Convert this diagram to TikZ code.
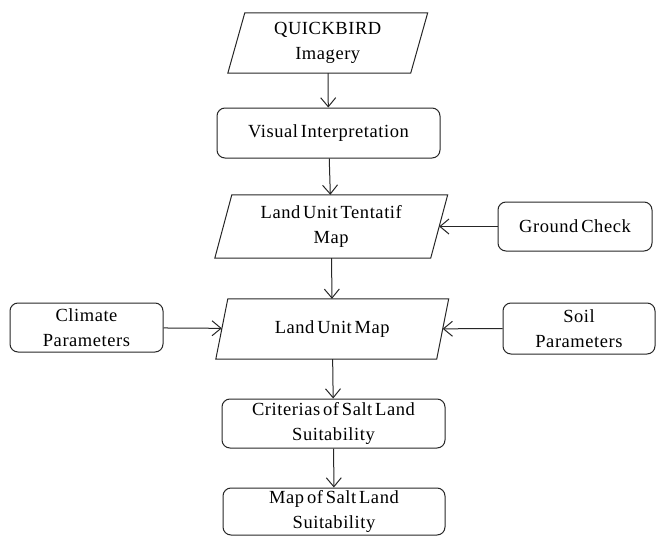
\documentclass[tikz,border=0pt]{standalone}
\usepackage{fontspec}
\setmainfont{Liberation Serif}[WordSpace=0.55,LetterSpace=3]
\usetikzlibrary{arrows.meta}
\newcommand\drawparal[2]{\draw[line width=1pt,draw=black!85] ([xshift=#2]#1.north west) -- ([xshift=#2]#1.north east) -- ([xshift=-#2]#1.south east) -- ([xshift=-#2]#1.south west) -- cycle;}
\begin{document}
\begin{tikzpicture}[x=1pt,y=-1pt,
  txt/.style={font=\fontsize{18.5}{25}\selectfont, align=center, inner sep=0pt, text=black},
  rbox/.style={txt, draw=black!85, line width=1pt, rounded corners=8pt},
  pbox/.style={txt, draw=none},
  arr/.style={draw=black!85, line width=1pt, -{Straight Barb[length=9pt,width=15pt]}}]
\useasboundingbox (0,0) rectangle (657,536);
% parallelograms (text holders)
\node[pbox, minimum width=182.5pt, minimum height=60pt] (qb) at (327.75,43) {QUICKBIRD\\Imagery};
\node[pbox, minimum width=215.5pt, minimum height=63pt] (lut) at (331.25,226.5) {Land Unit Tentatif\\Map};
\node[pbox, minimum width=220.5pt, minimum height=60pt] (lum) at (332.25,329) {Land Unit Map};
\drawparal{qb}{8.5pt}
\drawparal{lut}{8.5pt}
\drawparal{lum}{6pt}
% rounded boxes
\node[rbox, minimum width=223pt, minimum height=50pt] (vis) at (328.5,133) {Visual Interpretation};
\node[rbox, minimum width=154pt, minimum height=49pt] (gc) at (575,226.5) {Ground Check};
\node[rbox, minimum width=153pt, minimum height=49pt] (clim) at (86.5,327.5) {Climate\\Parameters};
\node[rbox, minimum width=152pt, minimum height=51pt] (soil) at (579,328.5) {Soil\\Parameters};
\node[rbox, minimum width=223pt, minimum height=49pt] (crit) at (333.5,423.5) {Criterias of Salt Land\\Suitability};
\node[rbox, minimum width=222pt, minimum height=47pt] (msl) at (334,511.5) {Map of Salt Land\\Suitability};
% connectors
\draw[arr] (qb) -- (vis);
\draw[arr] (vis) -- (lut);
\draw[arr] (gc) -- (lut);
\draw[arr] (lut) -- (lum);
\draw[arr] (clim) -- (lum);
\draw[arr] (soil) -- (lum);
\draw[arr] (lum) -- (crit);
\draw[arr] (crit) -- (msl);
\end{tikzpicture}
\end{document}
